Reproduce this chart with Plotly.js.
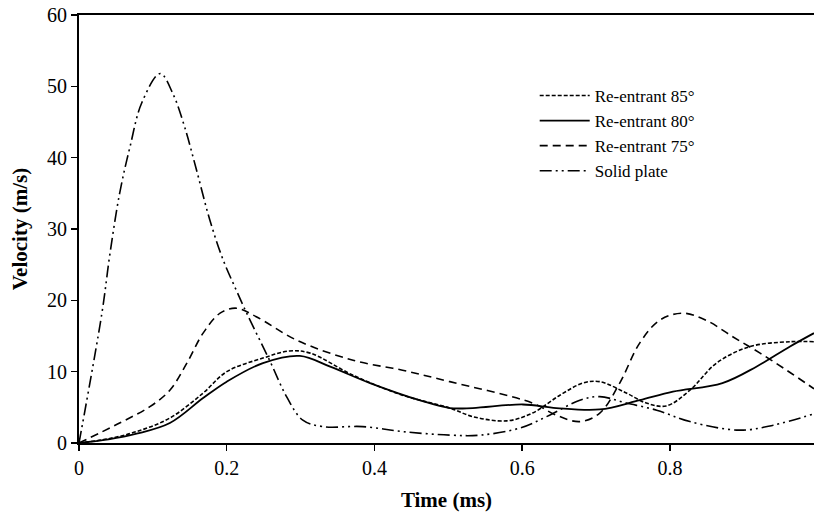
<!DOCTYPE html>
<html>
<head>
<meta charset="utf-8">
<script src="https://cdn.plot.ly/plotly-3.0.1.min.js"></script>
<style>html,body{margin:0;padding:0;background:#fff;}#chart{width:814px;height:518px;}</style>
</head>
<body>
<div id="chart"></div>
<script>
// Re-entrant 85°
const t85 = [0, 0.04, 0.078, 0.123, 0.168, 0.2, 0.249, 0.285, 0.313, 0.371, 0.438, 0.502, 0.533, 0.579, 0.614, 0.651, 0.682, 0.705, 0.741, 0.768, 0.795, 0.827, 0.863, 0.908, 0.962, 0.995];
const v85 = [0, 0.6, 1.6, 3.5, 7.0, 10.0, 11.9, 12.9, 12.6, 9.5, 6.7, 4.9, 3.7, 3.1, 4.2, 6.7, 8.4, 8.6, 7.0, 5.6, 5.2, 7.4, 11.2, 13.5, 14.2, 14.2];
// Re-entrant 80°
const t80 = [0, 0.04, 0.078, 0.123, 0.168, 0.2, 0.249, 0.299, 0.34, 0.394, 0.461, 0.502, 0.533, 0.601, 0.646, 0.705, 0.759, 0.804, 0.871, 0.917, 0.962, 0.995];
const v80 = [0, 0.5, 1.3, 2.8, 6.3, 8.6, 11.2, 12.2, 10.7, 8.4, 6.0, 4.9, 4.9, 5.4, 4.9, 4.7, 6.0, 7.2, 8.4, 10.7, 13.5, 15.4];
// Re-entrant 75°
const t75 = [0, 0.055, 0.096, 0.123, 0.146, 0.168, 0.191, 0.213, 0.24, 0.295, 0.371, 0.438, 0.502, 0.614, 0.646, 0.678, 0.705, 0.732, 0.759, 0.786, 0.817, 0.849, 0.885, 0.922, 0.958, 0.995];
const v75 = [0, 2.8, 5.1, 7.4, 11.2, 15.4, 18.2, 18.9, 17.7, 14.4, 11.6, 10.2, 8.6, 5.6, 3.9, 3.0, 4.2, 8.4, 14.0, 17.2, 18.2, 17.2, 14.9, 12.6, 10.2, 7.6];
// Solid plate
const tSP = [0, 0.031, 0.042, 0.055, 0.069, 0.085, 0.110, 0.127, 0.143, 0.159, 0.177, 0.195, 0.213, 0.227, 0.258, 0.281, 0.303, 0.33, 0.384, 0.438, 0.502, 0.543, 0.597, 0.637, 0.678, 0.705, 0.741, 0.782, 0.827, 0.894, 0.94, 0.995];
const vSP = [0, 18.2, 26.6, 35.0, 41.5, 47.7, 51.8, 49.0, 44.3, 38.3, 31.3, 25.7, 21.4, 18.2, 11.6, 6.5, 3.2, 2.3, 2.3, 1.6, 1.1, 1.1, 2.1, 3.9, 6.0, 6.5, 5.6, 4.6, 3.0, 1.8, 2.5, 4.1];

const names = ['Re-entrant 85°', 'Re-entrant 80°', 'Re-entrant 75°', 'Solid plate'];
const xTicks = [0, 0.2, 0.4, 0.6, 0.8];
const yTicks = [0, 10, 20, 30, 40, 50, 60];

const mk = (x, y, name, dash, w) => ({
  x: x, y: y, name: name, type: 'scatter', mode: 'lines',
  line: {color: '#000', width: w, dash: dash, shape: 'spline', smoothing: 1},
  hoverinfo: 'skip'
});

const data = [
  mk(t85, v85, names[0], '4px,2px', 1.6),
  mk(t80, v80, names[1], 'solid', 1.8),
  mk(t75, v75, names[2], '8px,5px', 1.6),
  mk(tSP, vSP, names[3], '12px,4px,2px,4px,2px,4px', 1.6)
];

const fontFam = '"Liberation Serif", "Times New Roman", serif';
const layout = {
  width: 814, height: 518,
  margin: {l: 79, r: 0, t: 15, b: 75},
  paper_bgcolor: '#fff', plot_bgcolor: '#fff',
  font: {family: fontFam, color: '#000', size: 20},
  showlegend: true,
  legend: {x: 0.62, y: 0.853, xanchor: 'left', yanchor: 'top', font: {family: fontFam, size: 17, color: '#000'}, bgcolor: 'rgba(0,0,0,0)', itemwidth: 50, tracegroupgap: 0},
  xaxis: {
    range: [0, 0.995], tickvals: xTicks, ticktext: xTicks.map(String),
    showgrid: false, zeroline: false, showline: true, linecolor: '#000', linewidth: 2,
    mirror: true, ticks: 'outside', ticklen: 6, tickwidth: 1.5, tickcolor: '#000',
    tickfont: {family: fontFam, size: 20, color: '#000'},
    title: {text: '<b>Time (ms)</b>', font: {family: fontFam, size: 21, color: '#000'}, standoff: 14}
  },
  yaxis: {
    range: [0, 60], tickvals: yTicks, ticktext: yTicks.map(String),
    showgrid: false, zeroline: false, showline: true, linecolor: '#000', linewidth: 2,
    ticks: 'outside', ticklen: 6, tickwidth: 1.5, tickcolor: '#000',
    tickfont: {family: fontFam, size: 20, color: '#000'},
    title: {text: '<b>Velocity (m/s)</b>', font: {family: fontFam, size: 21, color: '#000'}, standoff: 14}
  }
};

Plotly.newPlot('chart', data, layout, {displayModeBar: false, staticPlot: true});
</script>
</body>
</html>
